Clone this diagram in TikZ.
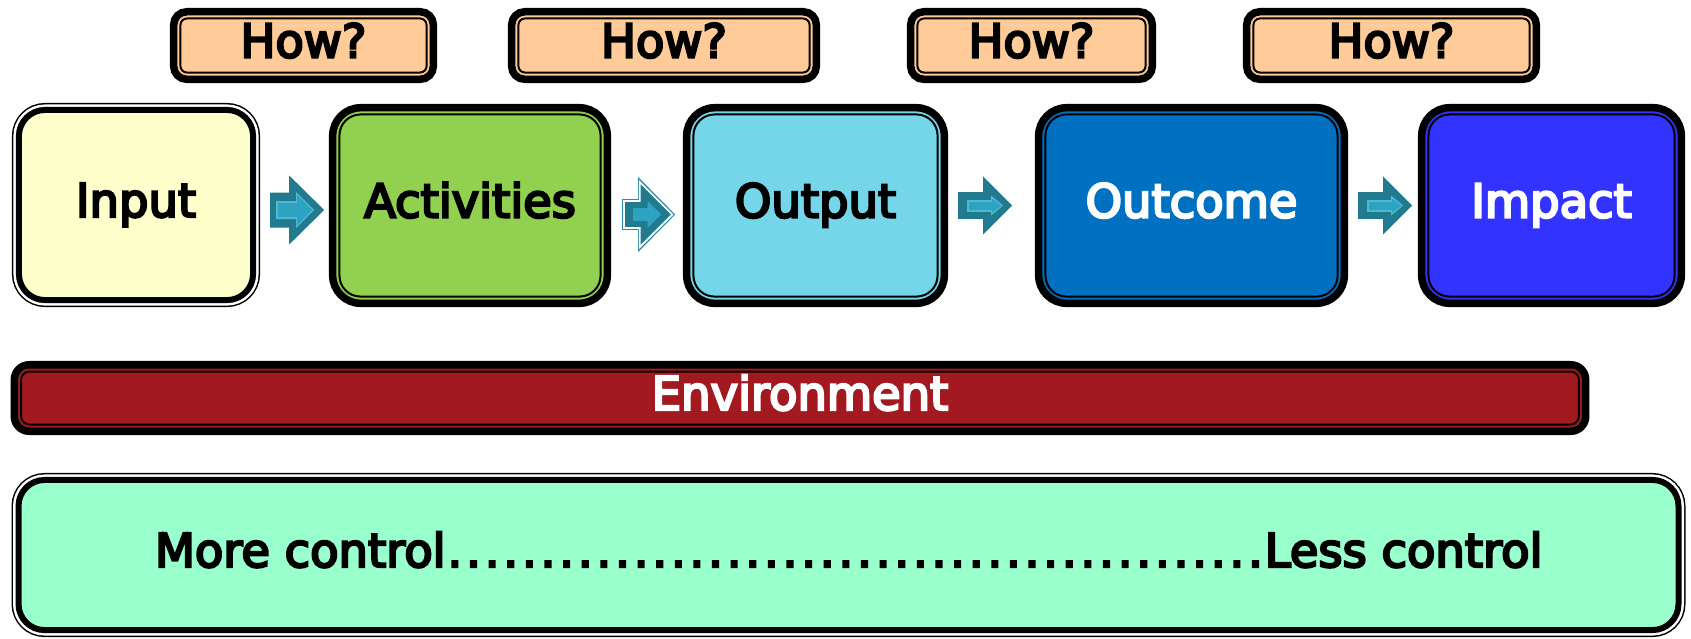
\documentclass[tikz,border=0pt]{standalone}
\usepackage{fontspec}
\usetikzlibrary{arrows.meta}
\newfontfamily\lblfont[FakeBold=5]{DejaVu Sans}
\newcommand{\lbl}{\lblfont\fontsize{13.2pt}{16pt}\selectfont}

\definecolor{inputfill}{HTML}{FFFFCC}
\definecolor{actfill}{HTML}{92D050}
\definecolor{outfill}{HTML}{76D6E9}
\definecolor{outcfill}{HTML}{0070C0}
\definecolor{impfill}{HTML}{3333FF}
\definecolor{howfill}{HTML}{FFCC99}
\definecolor{envfill}{HTML}{A2191F}
\definecolor{ctrlfill}{HTML}{99FFCC}
\definecolor{arrdark}{HTML}{217A8E}
\definecolor{arrlight}{HTML}{2EA3C1}
\definecolor{arrline}{HTML}{4FB9D1}
\definecolor{arredge}{HTML}{2B8DA3}

\tikzset{
  rimmed/.style 2 args={draw=black, line width=.075cm, rounded corners=#1, inner sep=0pt,
    path picture={\draw[black, line width=.02cm, rounded corners=#2]
      ([shift={(.0675cm,.0675cm)}]path picture bounding box.south west) rectangle
      ([shift={(-.0675cm,-.0675cm)}]path picture bounding box.north east);}},
  ringed/.style={draw=black, line width=.06cm, rounded corners=#1, inner sep=0pt,
    preaction={draw=black, line width=.14cm},
    preaction={draw=white, line width=.11cm}},
  flow/.style n args={4}{draw=#4, line width=#1cm,
    -{Triangle[width=#2cm, length=#3cm, line width=0pt]}},
}
\newcommand{\drawstage}[2]{\node[rimmed={.28cm}{.21cm}, minimum height=1.955cm, minimum width=#1, fill=#2]}
\newcommand{\drawhow}[1]{\node[rimmed={.13cm}{.065cm}, fill=howfill, minimum height=.675cm, minimum width=#1]}
\newcommand{\drawringed}[2]{\node[ringed=.26cm, minimum width=#1, minimum height=#2]}

\begin{document}
\begin{tikzpicture}[x=.01cm, y=-.01cm, every node/.style={font=\lbl, text height=9.6pt, text depth=2.8pt}]
\useasboundingbox (0,0) rectangle (1691,638);
%how? tags over the chain
\drawhow{2.595cm} (how1) at (303.5,45.5) {How?};
\drawhow{3.045cm} (how2) at (664,45.5) {How?};
\drawhow{2.415cm} (how3) at (1031.5,45.5) {How?};
\drawhow{2.895cm} (how4) at (1391.5,45.5) {How?};

%stages
\drawringed{2.34cm}{1.90cm} (in) at (136,205) [fill=inputfill] {Input};
\drawstage{2.745cm}{actfill} (act) at (470,205.5) {Activities};
\drawstage{2.575cm}{outfill} (out) at (815.5,205.5) {Output};
\drawstage{3.055cm}{outcfill, text=white} (outc) at (1191.5,205.5) {Outcome};
\drawstage{2.595cm}{impfill, text=white} (imp) at (1551.5,205.5) {Impact};

\node[rimmed={.15cm}{.085cm}, fill=envfill, text=white, minimum width=15.705cm, minimum height=.665cm] (env) at (800,398) {Environment};
\drawringed{16.59cm}{1.50cm} (ctrl) at (848.5,555) [fill=ctrlfill] {More control\foreach \k in {1,...,44}{\makebox[.186cm]{.}}Less control};

%block arrows
\draw[flow={.35}{.69}{.35}{arrdark}, shorten <=.14cm, shorten >=.0475cm] ([yshift=-.05cm]in.east) -- ([yshift=-.045cm]act.west);
\draw[flow={.18}{.36}{.18}{arrline}, shorten <=.20cm, shorten >=.1475cm] ([yshift=-.05cm]in.east) -- ([yshift=-.045cm]act.west);
\draw[flow={.14}{.30}{.15}{arrlight}, shorten <=.22cm, shorten >=.1675cm] ([yshift=-.05cm]in.east) -- ([yshift=-.045cm]act.west);

\draw[flow={.31}{.75}{.37}{arredge}, shorten <=.1075cm, shorten >=.0775cm] ([yshift=-.09cm]act.east) -- ([yshift=-.09cm]out.west);
\draw[flow={.286}{.692}{.346}{white}, shorten <=.1195cm, shorten >=.0945cm] ([yshift=-.09cm]act.east) -- ([yshift=-.09cm]out.west);
\draw[flow={.25}{.606}{.303}{arrdark}, shorten <=.1375cm, shorten >=.1195cm] ([yshift=-.09cm]act.east) -- ([yshift=-.09cm]out.west);
\draw[flow={.13}{.27}{.135}{arrlight}, shorten <=.2175cm, shorten >=.2175cm] ([yshift=-.09cm]act.east) -- ([yshift=-.09cm]out.west);

\draw[flow={.27}{.58}{.29}{arrdark}, shorten <=.0975cm, shorten >=.2275cm] (out.east) -- (outc.west);
\draw[flow={.12}{.20}{.12}{arrline}, shorten <=.1875cm, shorten >=.3175cm] (out.east) -- (outc.west);
\draw[flow={.08}{.14}{.09}{arrlight}, shorten <=.2075cm, shorten >=.3375cm] (out.east) -- (outc.west);

\draw[flow={.27}{.58}{.29}{arrdark}, shorten <=.0975cm, shorten >=.0575cm] (outc.east) -- (imp.west);
\draw[flow={.12}{.20}{.12}{arrline}, shorten <=.1875cm, shorten >=.1475cm] (outc.east) -- (imp.west);
\draw[flow={.08}{.14}{.09}{arrlight}, shorten <=.2075cm, shorten >=.1675cm] (outc.east) -- (imp.west);
\end{tikzpicture}
\end{document}
